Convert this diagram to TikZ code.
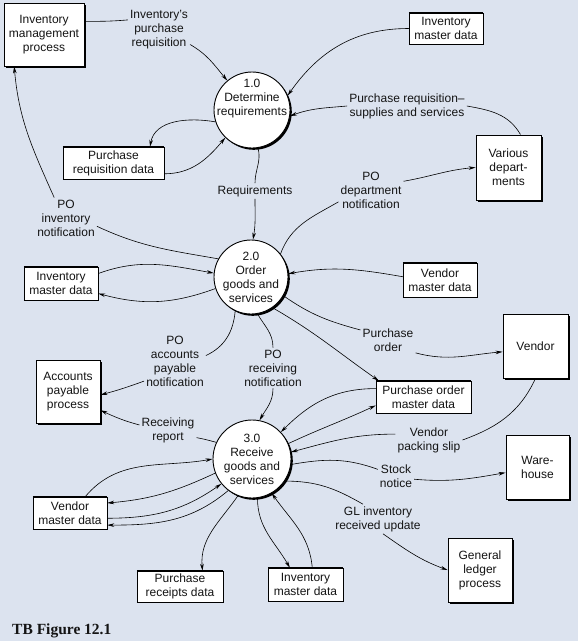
\documentclass[tikz,border=0pt]{standalone}
\usepackage{fontspec}
\setmainfont{Liberation Sans}
\newfontfamily\capfont{Liberation Serif}
\usetikzlibrary{arrows.meta,shadows}
\definecolor{bg}{RGB}{220,227,239}
\definecolor{ink}{RGB}{20,20,20}
\begin{document}
\begin{tikzpicture}[x=1pt,y=-1pt,
  every node/.style={font=\fontsize{12}{14}\selectfont, text=ink},
  proc/.style={draw=black, line width=0.9pt, fill=white, align=center, inner sep=1pt,
    drop shadow={shadow xshift=2.2pt, shadow yshift=-2.2pt, opacity=1, fill=black}},
  store/.style={draw=black, line width=0.5pt, fill=white, align=center, inner sep=1pt},
  circ/.style={circle, draw=black, line width=0.9pt, fill=white, inner sep=0pt,
    drop shadow={shadow xshift=1.8pt, shadow yshift=-1.8pt, opacity=1, fill=black}},
  ctext/.style={align=center, inner sep=0pt},
  lbl/.style={align=center, inner sep=2pt},
  flow/.style={draw=black, line width=0.6pt, -{Stealth[length=7pt,width=3.6pt]}},
  seg/.style={draw=black, line width=0.6pt},
  storeedge/.style={line width=1.5pt},
]
\fill[bg] (0,0) rectangle (578,641);
\useasboundingbox (0,0) rectangle (578,641);

% processes / external entities
\node[proc, minimum width=80pt, minimum height=63pt] (imp) at (44,34.5) {Inventory\\management\\process};
\node[proc, minimum width=65pt, minimum height=65pt] (vd) at (508.5,167.5) {Various\\depart-\\ments};
\node[proc, minimum width=65pt, minimum height=64pt] (ven) at (535.5,346) {Vendor};
\node[proc, minimum width=64pt, minimum height=63pt] (ap) at (68,391.5) {Accounts\\payable\\process};
\node[proc, minimum width=63pt, minimum height=64pt] (wh) at (537.5,467) {Ware-\\house};
\node[proc, minimum width=64pt, minimum height=64pt] (gl) at (480,570) {General\\ledger\\process};

% data stores
\node[store, minimum width=74pt, minimum height=31pt] (imdA) at (446,28.5) {Inventory\\master data};
\node[store, minimum width=101pt, minimum height=32pt] (prd) at (113.5,163) {Purchase\\requisition data};
\node[store, minimum width=74pt, minimum height=33pt] (imdB) at (61,283.5) {Inventory\\master data};
\node[store, minimum width=74pt, minimum height=34pt] (vmdA) at (440,280) {Vendor\\master data};
\node[store, minimum width=95pt, minimum height=32pt] (pomd) at (423.5,397) {Purchase order\\master data};
\node[store, minimum width=74pt, minimum height=32pt] (vmdB) at (70,513) {Vendor\\master data};
\node[store, minimum width=86pt, minimum height=31pt] (prcd) at (180,586.5) {Purchase\\receipts data};
\node[store, minimum width=75pt, minimum height=33pt] (imdC) at (305.5,584.5) {Inventory\\master data};
\foreach \n in {imdA,prd,imdB,vmdA,pomd,vmdB,prcd,imdC}{
  \draw[storeedge] (\n.north west) -- (\n.north east);
  \draw[storeedge] (\n.south west) -- (\n.south east);
}

% processes (circles)
\node[circ, minimum size=76pt, label={[ctext,yshift=11pt]center:{1.0\\Determine\\requirements}}] (c1) at (252,110) {};
\node[circ, minimum size=74pt, label={[ctext]center:{2.0\\Order\\goods and\\services}}] (c2) at (251,277) {};
\node[circ, minimum size=78pt, label={[ctext]center:{3.0\\Receive\\goods and\\services}}] (c3) at (252,459) {};

% flow labels
\node[lbl] (l1) at (159,30) {Inventory's\\purchase\\requisition};
\node[lbl] (l2) at (407,106) {Purchase requisition–\\supplies and services};
\node[lbl] (l3) at (371,190) {PO\\department\\notification};
\node[lbl] (l4) at (255,191) {Requirements};
\node[lbl] (l5) at (66,218) {PO\\inventory\\notification};
\node[lbl] (l6) at (175,361) {PO\\accounts\\payable\\notification};
\node[lbl] (l7) at (273,368) {PO\\receiving\\notification};
\node[lbl] (l8) at (388,340) {Purchase\\order};
\node[lbl] (l9) at (168,430) {Receiving\\report};
\node[lbl] (l10) at (429,440) {Vendor\\packing slip};
\node[lbl] (l11) at (396,476) {Stock\\notice};
\node[lbl] (l12) at (378,519) {GL inventory\\received update};

\node[anchor=base west, inner sep=0pt, font=\capfont\bfseries\fontsize{15.5}{18}\selectfont] (cap) at (12,634) {TB Figure 12.1};

% flows
\draw[seg] (imp.18) to[out=0,in=185] (l1.162);
\draw[flow] (l1.-25) to[out=-30,in=130] (c1.130);
\draw[flow] (imdA.west) to[out=180,in=55] (c1.22);
\draw[seg] (vd.70) to[out=120,in=-10] (l2.east);
\draw[flow] (l2.west) to[out=185,in=20] (c1.-9);
\draw[flow] (c1.198) to[out=170,in=80] (prd.24);
\draw[flow] (prd.-12) to[out=0,in=230] (c1.226);
\draw[seg] (c1.279) to[out=-75,in=90] (l4.north);
\draw[flow] (l4.south) to[out=-90,in=80] (c2.87);
\draw[seg] (c2.151) to[out=170,in=-25] (l5.-15);
\draw[flow] (l5.120) to[out=114,in=-85] (imp.227);
\draw[seg] (c2.38) to[out=70,in=210] (l3.200);
\draw[flow] (l3.15) to[out=10,in=185] (vd.west);
\draw[flow] (imdB.15) to[out=20,in=170] (c2.174);
\draw[flow] (c2.198) to[out=200,in=-15] (imdB.-15);
\draw[flow] (vmdA.175) to[out=170,in=10] (c2.5);
\draw[seg] (c2.330) to[out=-35,in=165] (l8.160);
\draw[flow] (l8.-25) to[out=-15,in=185] (ven.190);
\draw[flow] (c2.305) to[out=-30,in=145] (pomd.160);
\draw[seg] (c2.245) to[out=-95,in=25] (l6.10);
\draw[flow] (l6.213) to[out=200,in=15] (ap.-6);
\draw[seg] (c2.280) to[out=-60,in=90] (l7.north);
\draw[flow] (l7.south) to[out=-90,in=60] (c3.79);
\draw[seg] (c3.155) to[out=165,in=-10] (l9.-15);
\draw[flow] (l9.170) to[out=165,in=-25] (ap.-30);
\draw[flow] (pomd.170) to[out=180,in=45] (c3.43);
\draw[flow] (c3.23) to[out=25,in=205] (pomd.190);
\draw[seg] (ven.south) to[out=-115,in=20] (l10.east);
\draw[flow] (l10.170) to[out=180,in=15] (c3.10);
\draw[seg] (c3.352) to[out=10,in=160] (l11.160);
\draw[flow] (l11.-10) to[out=-5,in=190] (wh.190);
\draw[seg] (c3.326) to[out=0,in=150] ([xshift=-15pt]l12.north);
\draw[flow] ([xshift=5pt]l12.south) to[out=-35,in=160] (gl.west);
\draw[flow] (c3.278) to[out=-90,in=120] (imdC.133);
\draw[flow] (imdC.68) to[out=95,in=-55] (c3.300);
\draw[flow] (c3.249) to[out=-125,in=95] (prcd.35);
\draw[flow] (vmdB.47) to[out=50,in=190] (c3.180);
\draw[flow] (c3.201) to[out=205,in=5] (vmdB.15);
\draw[flow] (vmdB.-8) to[out=0,in=215] (c3.219);
\draw[flow] (c3.233) to[out=220,in=0] (vmdB.-18);
\end{tikzpicture}
\end{document}
